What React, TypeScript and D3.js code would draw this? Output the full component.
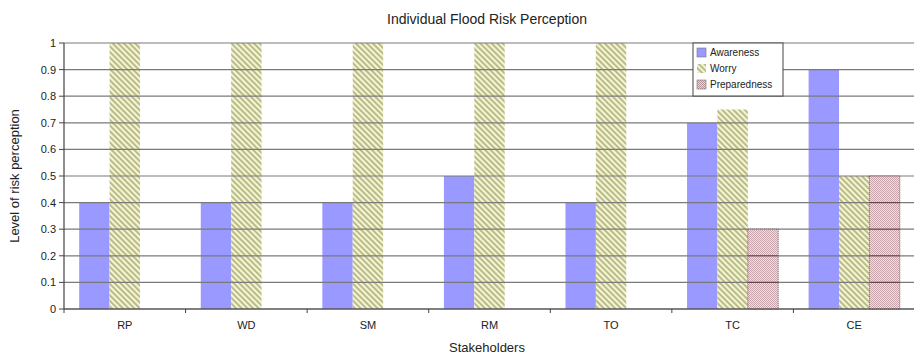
import React from "react";
import * as d3 from "d3";

const categories = ["RP", "WD", "SM", "RM", "TO", "TC", "CE"];
const seriesNames = ["Awareness", "Worry", "Preparedness"];
const awareness = [0.4, 0.4, 0.4, 0.5, 0.4, 0.7, 0.9];
const worry = [1, 1, 1, 1, 1, 0.75, 0.5];
const preparedness = [0, 0, 0, 0, 0, 0.3, 0.5];
const yTicks = [0, 0.1, 0.2, 0.3, 0.4, 0.5, 0.6, 0.7, 0.8, 0.9, 1];

const W = 914, H = 359;
const left = 64, right = 915, top = 43, bottom = 309;

export default function App() {
  const x = d3.scaleBand<string>().domain(categories).range([left, right]).paddingInner(0).paddingOuter(0);
  const inner = d3.scaleBand<string>().domain(seriesNames).range([0, x.bandwidth()]).paddingInner(0).paddingOuter(0.5);
  const y = d3.scaleLinear().domain([0, 1]).range([bottom, top]);
  const series = [awareness, worry, preparedness];
  const fills = ["#9999ff", "url(#worryPat)", "url(#prepPat)"];
  const font = "Arial, 'Liberation Sans', sans-serif";
  return (
    <svg width={W} height={H} style={{ position: "absolute", left: 0, top: 0, background: "#fff" }} fontFamily={font}>
      <defs>
        <pattern id="worryPat" patternUnits="userSpaceOnUse" width="4" height="4" patternTransform="rotate(-45)">
          <rect width="4" height="4" fill="#f6f6cc" />
          <rect width="1.8" height="4" fill="#b4b48c" />
        </pattern>
        <pattern id="prepPat" patternUnits="userSpaceOnUse" width="2" height="2">
          <rect width="2" height="2" fill="rgba(236,214,218,0.8)" />
          <rect width="1" height="1" fill="rgba(190,150,160,0.8)" />
          <rect x="1" y="1" width="1" height="1" fill="rgba(190,150,160,0.8)" />
        </pattern>
        <pattern id="prepLeg" patternUnits="userSpaceOnUse" width="2" height="2">
          <rect width="2" height="2" fill="#ecd6da" />
          <rect width="1" height="1" fill="#b89098" />
          <rect x="1" y="1" width="1" height="1" fill="#b89098" />
        </pattern>
      </defs>
      <text x={487} y={24} textAnchor="middle" fontSize={14} fill="#222">Individual Flood Risk Perception</text>
      {categories.map((c, i) =>
        series.slice(0, 2).map((s, j) => (
          <rect key={c + j} x={(x(c) as number) + (inner(seriesNames[j]) as number)} y={y(s[i])}
            width={inner.bandwidth()} height={bottom - y(s[i])} fill={fills[j]} />
        ))
      )}
      {yTicks.map((t) => (
        <line key={t} x1={left} x2={right} y1={y(t)} y2={y(t)} stroke="#7a7a7a" strokeWidth={1.2} />
      ))}
      {categories.map((c, i) =>
        preparedness[i] > 0 ? (
          <g key={c + "p"}>
            <rect x={(x(c) as number) + (inner("Preparedness") as number)} y={y(preparedness[i])}
              width={inner.bandwidth()} height={bottom - y(preparedness[i])} fill={fills[2]}
              stroke="#5a3a3a" strokeWidth={0.8} strokeDasharray="1,1" />
            {yTicks.filter((t) => t > 0 && t < preparedness[i]).map((t) => (
              <line key={t} x1={(x(c) as number) + (inner("Preparedness") as number)}
                x2={(x(c) as number) + (inner("Preparedness") as number) + inner.bandwidth()}
                y1={y(t)} y2={y(t)} stroke="#6a4448" strokeWidth={1.2} />
            ))}
          </g>
        ) : null
      )}
      <line x1={left} x2={left} y1={top} y2={bottom} stroke="#444" strokeWidth={1.2} />
      {yTicks.map((t) => (
        <g key={"t" + t}>
          <line x1={left - 5} x2={left} y1={y(t)} y2={y(t)} stroke="#444" />
          <text x={left - 8} y={y(t) + 4} textAnchor="end" fontSize={11} fill="#222">{t}</text>
        </g>
      ))}
      <line x1={left} x2={right} y1={bottom} y2={bottom} stroke="#444" strokeWidth={1.2} />
      {categories.map((c) => (
        <g key={"x" + c}>
          <line x1={x(c) as number} x2={x(c) as number} y1={bottom} y2={bottom + 4} stroke="#444" />
          <text x={(x(c) as number) + x.bandwidth() / 2} y={bottom + 20} textAnchor="middle" fontSize={11} fill="#222">{c}</text>
        </g>
      ))}
      <text x={487} y={352} textAnchor="middle" fontSize={13} fill="#222">Stakeholders</text>
      <text transform={`translate(19,${(top + bottom) / 2}) rotate(-90)`} textAnchor="middle" fontSize={13} fill="#222">Level of risk perception</text>
      <g>
        <rect x={693} y={43} width={90} height={53} fill="#fff" stroke="#444" strokeWidth={1} />
        {seriesNames.map((n, j) => (
          <g key={n}>
            <rect x={697} y={48 + j * 16} width={9} height={9}
              fill={j === 2 ? "url(#prepLeg)" : fills[j]} stroke={j === 1 ? "none" : "#777"} strokeWidth={0.6} />
            <text x={710} y={56 + j * 16} fontSize={10} fill="#222">{n}</text>
          </g>
        ))}
      </g>
    </svg>
  );
}
